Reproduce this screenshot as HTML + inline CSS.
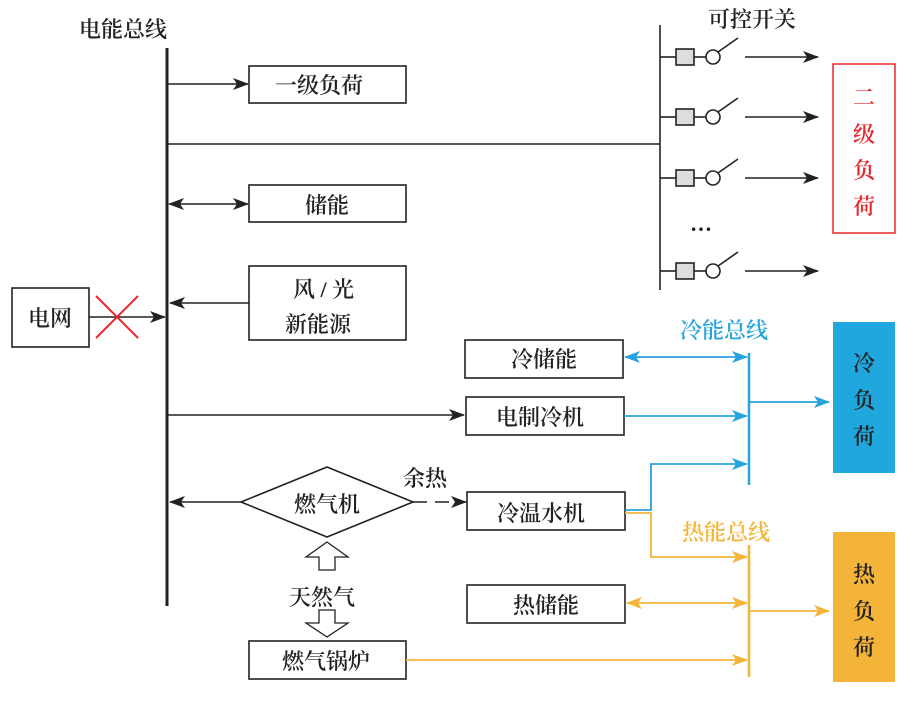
<!DOCTYPE html>
<html><head><meta charset="utf-8"><style>
html,body{margin:0;padding:0;background:#fff;width:920px;height:705px;overflow:hidden}
svg{display:block}
text{font-family:"Liberation Serif","Noto Serif CJK SC","Noto Sans CJK SC",serif;font-size:22px;font-weight:600;fill:#222}
</style></head><body>
<svg width="920" height="705" viewBox="0 0 920 705" xmlns="http://www.w3.org/2000/svg">
<defs>
<marker id="ab" markerWidth="16" markerHeight="12" refX="15" refY="6" orient="auto-start-reverse" markerUnits="userSpaceOnUse"><path d="M0,0 L16,6 L0,12 L4,6z" fill="#222"/></marker>
<marker id="ac" markerWidth="16" markerHeight="12" refX="15" refY="6" orient="auto-start-reverse" markerUnits="userSpaceOnUse"><path d="M0,0 L16,6 L0,12 L4,6z" fill="#27a3dd"/></marker>
<marker id="ah" markerWidth="16" markerHeight="12" refX="15" refY="6" orient="auto-start-reverse" markerUnits="userSpaceOnUse"><path d="M0,0 L16,6 L0,12 L4,6z" fill="#f4b43a"/></marker>
</defs>
<g stroke="#222" fill="none" stroke-width="1.6">
<line x1="167" y1="48" x2="167" y2="606" stroke-width="3"/>
<rect x="249" y="66" width="157" height="37"/>
<line x1="168" y1="84" x2="248" y2="84" marker-end="url(#ab)"/>
<line x1="168" y1="144" x2="660" y2="144"/>
<line x1="660" y1="25" x2="660" y2="290"/>
<rect x="249" y="185" width="157" height="37"/>
<line x1="169" y1="204" x2="248" y2="204" marker-start="url(#ab)" marker-end="url(#ab)"/>
<rect x="249" y="266" width="157" height="74"/>
<line x1="249" y1="303" x2="170" y2="303" marker-end="url(#ab)"/>
<rect x="12" y="288" width="77" height="59"/>
<line x1="89" y1="317" x2="165" y2="317" marker-end="url(#ab)"/>
<rect x="465" y="340" width="158" height="38"/>
<rect x="466" y="397" width="158" height="38"/>
<line x1="168" y1="415" x2="464" y2="415" marker-end="url(#ab)"/>
<polygon points="241,502 327,467 413,502 327,537"/>
<line x1="241" y1="502" x2="170" y2="502" marker-end="url(#ab)"/>
<line x1="413" y1="502" x2="466" y2="502" stroke-dasharray="14,8" marker-end="url(#ab)"/>
<rect x="467" y="492" width="158" height="38"/>
<rect x="467" y="585" width="158" height="38"/>
<rect x="249" y="641" width="157" height="38"/>
<path d="M319,570 L319,557 L306,557 L327,542 L348,557 L335,557 L335,570z" stroke-width="1.3"/>
<path d="M319,610 L319,623 L306,623 L327,637 L348,623 L335,623 L335,610z" stroke-width="1.3"/>
</g>
<g stroke="#e8262a" stroke-width="2"><line x1="96" y1="296" x2="138" y2="338"/><line x1="138" y1="296" x2="96" y2="338"/></g>
<g stroke="#222" stroke-width="1.6" fill="none">
<g id="sw">
<line x1="660" y1="57" x2="676" y2="57"/><rect x="676" y="49" width="18" height="16" fill="#ddd"/>
<line x1="694" y1="57" x2="706" y2="57"/><circle cx="713" cy="57" r="7" fill="#fff"/>
<line x1="718" y1="52" x2="738" y2="38"/>
<line x1="745" y1="57" x2="818" y2="57" marker-end="url(#ab)"/>
</g>
<use href="#sw" y="60"/><use href="#sw" y="121"/><use href="#sw" y="214"/>
</g>
<text x="690" y="231" font-size="18">…</text>
<rect x="833" y="64" width="62" height="169" fill="none" stroke="#e8262a" stroke-width="1.5"/>
<text x="853" y="105" style="fill:#e8262a">二</text><text x="853" y="142" style="fill:#e8262a">级</text><text x="853" y="178" style="fill:#e8262a">负</text><text x="853" y="214" style="fill:#e8262a">荷</text>
<g stroke="#27a3dd" stroke-width="1.8" fill="none">
<line x1="749" y1="353" x2="749" y2="485" stroke-width="2.5"/>
<line x1="625" y1="357" x2="747" y2="357" marker-start="url(#ac)" marker-end="url(#ac)"/>
<line x1="624" y1="416" x2="747" y2="416" marker-end="url(#ac)"/>
<line x1="749" y1="402" x2="829" y2="402" marker-end="url(#ac)"/>
<path d="M625,510 L651,510 L651,464 L747,464" marker-end="url(#ac)"/>
</g>
<rect x="833" y="322" width="62" height="151" fill="#1fa7de"/>
<text x="853" y="371">冷</text><text x="853" y="408">负</text><text x="853" y="444">荷</text>
<text x="680" y="338" style="fill:#27a3dd">冷能总线</text>
<g stroke="#f4b43a" stroke-width="1.8" fill="none">
<line x1="749" y1="545" x2="749" y2="677" stroke-width="2.5"/>
<path d="M625,513 L651,513 L651,557 L747,557" marker-end="url(#ah)"/>
<line x1="627" y1="603" x2="747" y2="603" marker-start="url(#ah)" marker-end="url(#ah)"/>
<line x1="749" y1="611" x2="829" y2="611" marker-end="url(#ah)"/>
<line x1="406" y1="660" x2="747" y2="660" marker-end="url(#ah)"/>
</g>
<rect x="833" y="532" width="62" height="150" fill="#f4b43a"/>
<text x="853" y="582">热</text><text x="853" y="619">负</text><text x="853" y="655">荷</text>
<text x="682" y="540" style="fill:#f4b43a">热能总线</text>
<text x="79" y="37">电能总线</text>
<text x="708" y="27">可控开关</text>
<text x="275" y="93">一级负荷</text>
<text x="305" y="213">储能</text>
<text x="293" y="297">风 / 光</text>
<text x="285" y="332">新能源</text>
<text x="28" y="326">电网</text>
<text x="511" y="367">冷储能</text>
<text x="496" y="425">电制冷机</text>
<text x="294" y="512">燃气机</text>
<text x="403" y="486">余热</text>
<text x="497" y="521">冷温水机</text>
<text x="513" y="613">热储能</text>
<text x="289" y="605">天然气</text>
<text x="282" y="669">燃气锅炉</text>
</svg>
</body></html>
